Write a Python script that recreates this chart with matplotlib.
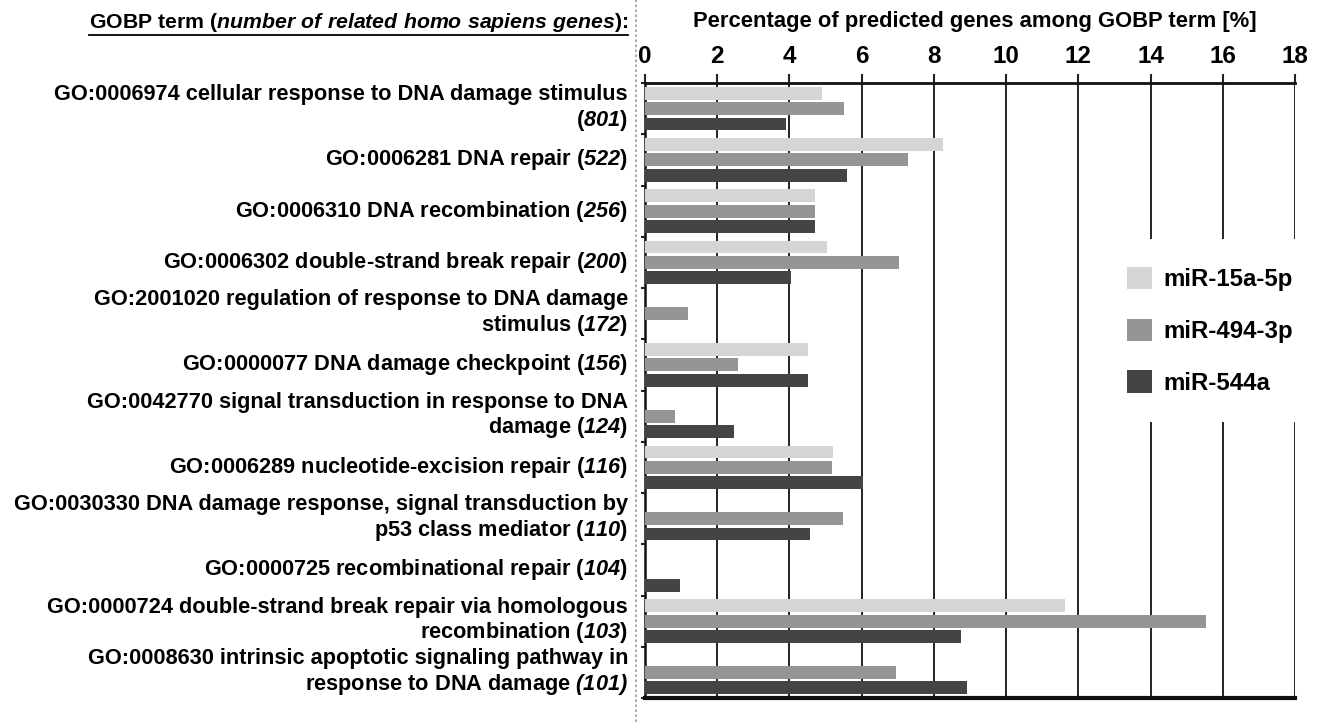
import matplotlib
matplotlib.use("Agg")
import matplotlib.pyplot as plt
import numpy as np

plt.rcParams['font.family'] = ['Liberation Sans', 'DejaVu Sans']
plt.rcParams['font.weight'] = 'bold'
plt.rcParams['mathtext.fontset'] = 'custom'
plt.rcParams['mathtext.rm'] = 'Liberation Sans:italic:bold'
plt.rcParams['mathtext.it'] = 'Liberation Sans:italic:bold'
plt.rcParams['mathtext.bf'] = 'Liberation Sans:italic:bold'

terms = [
    "GO:0006974 cellular response to DNA damage stimulus\n($801$)",
    "GO:0006281 DNA repair ($522$)",
    "GO:0006310 DNA recombination ($256$)",
    "GO:0006302 double-strand break repair ($200$)",
    "GO:2001020 regulation of response to DNA damage\nstimulus ($172$)",
    "GO:0000077 DNA damage checkpoint ($156$)",
    "GO:0042770 signal transduction in response to DNA\ndamage ($124$)",
    "GO:0006289 nucleotide-excision repair ($116$)",
    "GO:0030330 DNA damage response, signal transduction by\np53 class mediator ($110$)",
    "GO:0000725 recombinational repair ($104$)",
    "GO:0000724 double-strand break repair via homologous\nrecombination ($103$)",
    "GO:0008630 intrinsic apoptotic signaling pathway in\nresponse to DNA damage $(101)$",
]
series_names = ["miR-15a-5p", "miR-494-3p", "miR-544a"]
mir15a = [4.89, 8.25, 4.71, 5.03, 0.0, 4.50, 0.0, 5.20, 0.0, 0.0, 11.64, 0.0]
mir494 = [5.52, 7.29, 4.71, 7.02, 1.18, 2.58, 0.83, 5.19, 5.47, 0.0, 15.53, 6.94]
mir544 = [3.90, 5.58, 4.71, 4.04, 0.0, 4.50, 2.46, 6.04, 4.58, 0.98, 8.74, 8.91]
xticks = [0, 2, 4, 6, 8, 10, 12, 14, 16, 18]
colors = ["#d5d5d5", "#959595", "#444444"]

W, H = 1322, 722
fig = plt.figure(figsize=(W / 100, H / 100), dpi=100)
ax = fig.add_axes([645 / W, 1 - 698 / H, (1295 - 645) / W, (698 - 83) / H])

n = len(terms)
y = np.arange(n)
bh = 0.25
pitch = 0.30
series = [mir15a, mir494, mir544]
handles = []
for i, (vals, c, name) in enumerate(zip(series, colors, series_names)):
    b = ax.barh(y + (i - 1) * pitch, vals, height=bh, color=c, label=name,
                linewidth=0, zorder=3)
    handles.append(b)

ax.set_xlim(0, 18)
ax.set_ylim(n - 0.5, -0.5)
ax.set_xticks(xticks)
ax.set_xticklabels([str(t) for t in xticks], fontsize=17.5, fontweight='bold')
ax.xaxis.tick_top()
ax.tick_params(axis='x', direction='out', length=6.5, width=1.5, pad=4.5, color='#222222')
ax.set_yticks(np.arange(n + 1) - 0.5)
ax.set_yticklabels([])
ax.tick_params(axis='y', direction='out', length=3, width=1.5, color='#222222')
ax.grid(axis='x', color='#222222', linewidth=1.4, zorder=1)
ax.set_axisbelow(True)
ax.spines['right'].set_visible(False)
ax.spines['top'].set_linewidth(2.0)
ax.spines['bottom'].set_linewidth(3.0)
ax.spines['left'].set_linewidth(1.8)
for s in ax.spines.values():
    s.set_color('#111111')

# category labels
for i, t in enumerate(terms):
    yy = ax.transData.transform((0, i))[1]
    ax.text(628, yy, t, transform=None, fontsize=15.7, fontweight='bold',
            ha='right', va='center', ma='right', linespacing=1.15)

# headers
hdr_l = fig.text(628 / W, 1 - 22 / H,
                 "GOBP term ($number\\ of\\ related\\ homo\\ sapiens\\ genes$):",
                 fontsize=15.3, fontweight='bold', ha='right', va='center')
fig.text(975 / W, 1 - 22 / H, "Percentage of predicted genes among GOBP term [%]",
         fontsize=15.8, fontweight='bold', ha='center', va='center')

# dotted divider
fig.add_artist(plt.Line2D([636 / W, 636 / W], [0, 1], transform=fig.transFigure,
                          color='#999999', linestyle=(0, (1.5, 1.5)), linewidth=1.2))

leg = ax.legend(handles=handles, loc='upper left',
                bbox_to_anchor=(1099 / W, 1 - 239 / H), bbox_transform=fig.transFigure,
                prop={'weight': 'bold', 'size': 17.3}, frameon=True, fancybox=False,
                edgecolor='none', facecolor='white', framealpha=1.0,
                handlelength=1.04, handleheight=1.04, handletextpad=0.5,
                labelspacing=1.15, borderpad=1.15, borderaxespad=0)
leg.set_zorder(5)

fig.canvas.draw()
r = fig.canvas.get_renderer()
bb = hdr_l.get_window_extent(r)
fig.add_artist(plt.Line2D([bb.x0, bb.x1], [bb.y0 - 1, bb.y0 - 1], transform=None,
                          color='black', linewidth=1.3))

fig.savefig("out.png", dpi=100)
